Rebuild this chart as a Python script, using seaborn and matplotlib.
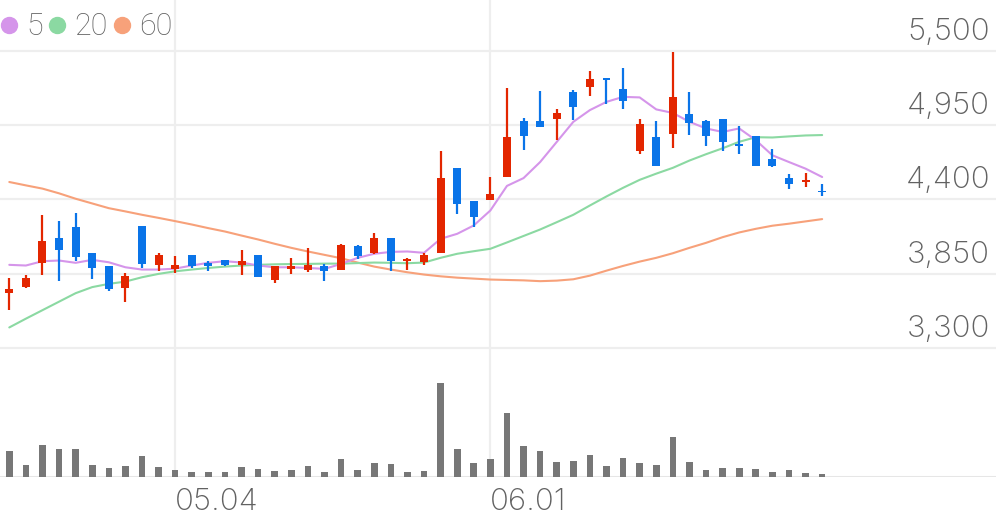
import numpy as np
import pandas as pd
import matplotlib
matplotlib.use("Agg")
import matplotlib.pyplot as plt
from matplotlib.lines import Line2D
import seaborn as sns

# ---------------- data ----------------
opens = [3704, 3748, 3932, 4112, 4199, 4001, 3904, 3741, 4202, 3917,
         3887, 3989, 3927, 3952, 3915, 3989, 3805, 3887, 3878, 3907,
         3880, 4058, 4001, 4112, 3942, 3937, 4004, 4636, 4390, 4398,
         4564, 4978, 4978, 4995, 5193, 5232, 5302, 5220, 4759, 4861,
         4883, 5034, 4982, 4995, 4807, 4871, 4700, 4556, 4532, 4462]
highs = [3818, 3837, 4283, 4239, 4301, 4001, 3904, 3852, 4202, 4001,
         3979, 3991, 3942, 3952, 4026, 3989, 3907, 3967, 4041, 3922,
         4073, 4063, 4150, 4115, 3969, 4001, 4759, 4636, 4390, 4569,
         5227, 5007, 5205, 5067, 5210, 5349, 5302, 5376, 4997, 4982,
         5490, 5193, 4985, 4995, 4943, 4871, 4774, 4591, 4598, 4512]
lows = [3580, 3744, 3843, 3798, 3947, 3813, 3724, 3640, 3892, 3872,
        3858, 3892, 3872, 3904, 3840, 3826, 3781, 3848, 3863, 3796,
        3878, 3956, 3999, 3872, 3880, 3917, 4001, 4289, 4199, 4398,
        4564, 4764, 4933, 4844, 4992, 5166, 5106, 5069, 4735, 4651,
        4779, 4876, 4794, 4757, 4735, 4648, 4638, 4480, 4494, 4422]
closes = [3733, 3818, 4090, 4028, 3971, 3895, 3739, 3833, 3922, 3991,
          3912, 3907, 3910, 3915, 3944, 3826, 3907, 3910, 3915, 3872,
          4063, 3984, 4112, 3942, 3956, 3986, 4558, 4368, 4269, 4440,
          4863, 4868, 4933, 5044, 5084, 5294, 5284, 5128, 4961, 4651,
          5156, 4965, 4873, 4824, 4796, 4648, 4648, 4514, 4543, 4452]
ma5 = [3915, 3910, 3942, 3947, 3930, 3952, 3934, 3897, 3880, 3880,
       3887, 3910, 3930, 3942, 3932, 3910, 3897, 3897, 3892, 3885,
       3922, 3967, 3997, 4011, 4014, 4004, 4108, 4145, 4207, 4318,
       4500, 4558, 4677, 4826, 4975, 5062, 5123, 5160, 5156, 5067,
       5041, 4975, 4926, 4900, 4926, 4839, 4727, 4677, 4628, 4566]
ma20 = [3451, 3516, 3579, 3642, 3705, 3750, 3774, 3791, 3823, 3848,
        3867, 3880, 3892, 3902, 3910, 3915, 3919, 3921, 3922, 3924,
        3924, 3928, 3932, 3930, 3927, 3932, 3967, 3997, 4016, 4034,
        4081, 4129, 4177, 4231, 4286, 4355, 4422, 4486, 4545, 4591,
        4634, 4688, 4735, 4779, 4827, 4861, 4859, 4867, 4874, 4877]
ma60 = [4529, 4504, 4480, 4445, 4405, 4370, 4335, 4311, 4286, 4263,
        4239, 4214, 4187, 4162, 4132, 4103, 4071, 4041, 4014, 3989,
        3964, 3932, 3902, 3880, 3860, 3843, 3830, 3820, 3813, 3806,
        3803, 3800, 3794, 3798, 3808, 3835, 3872, 3907, 3939, 3967,
        4001, 4041, 4078, 4120, 4155, 4182, 4205, 4220, 4237, 4254]
volumes = [257, 123, 317, 280, 277, 120, 90, 107, 207, 100,
           67, 53, 53, 47, 103, 77, 57, 70, 107, 50,
           177, 70, 137, 127, 50, 60, 940, 277, 140, 180,
           637, 310, 257, 150, 163, 217, 113, 190, 140, 123,
           400, 150, 70, 90, 87, 77, 50, 67, 40, 27]
price_ticks = [5500, 4950, 4400, 3850, 3300]
price_tick_labels = ["5,500", "4,950", "4,400", "3,850", "3,300"]
date_tick_pos = [10, 29]
date_tick_labels = ["05.04", "06.01"]
ma_names = ["5", "20", "60"]

# ---------------- style ----------------
sns.set_theme(style="white")
plt.rcParams["font.family"] = ["Roboto", "DejaVu Sans"]
AXIS_FONT = ["Inter", "Roboto", "DejaVu Sans"]

UP = "#e32600"
DOWN = "#0a74e8"
MA_COLORS = ["#d595ea", "#8bd9a2", "#f7a17a"]
TXT = "#626262"
GRID = "#eeeeee"
FS = 22
AFS = 22.5

idx = np.arange(len(closes))
df = pd.DataFrame({"i": idx, "open": opens, "high": highs, "low": lows,
                   "close": closes, "ma5": ma5, "ma20": ma20, "ma60": ma60,
                   "vol": volumes})

fig = plt.figure(figsize=(9.96, 5.19), dpi=100)
ax = fig.add_axes([0, 42 / 519, 1, 477 / 519])
axv = fig.add_axes([0, 42 / 519, 1, 117 / 519])
axv.patch.set_alpha(0)

xlim = (-0.56, 59.48)
for a in (ax, axv):
    a.set_xlim(*xlim)
    for s in a.spines.values():
        s.set_visible(False)

# price scale
ax.set_ylim(2342.5, 5878)
ax.set_yticks(price_ticks)
ax.set_yticklabels([])
ax.tick_params(axis="both", length=0)
ax.set_xticks(date_tick_pos)
ax.set_xticklabels(date_tick_labels, fontsize=AFS, color=TXT, ha="left",
                   family=AXIS_FONT, fontweight="light")
ax.tick_params(axis="x", pad=8)
ax.grid(True, color=GRID, linewidth=1.6)
ax.set_axisbelow(True)

for v, lab in zip(price_ticks, price_tick_labels):
    ax.annotate(lab, xy=(1, v), xycoords=("axes fraction", "data"),
                xytext=(-6, 19), textcoords="offset pixels",
                ha="right", va="center", fontsize=AFS, color=TXT,
                family=AXIS_FONT, fontweight="light")

# moving averages
for col, c in zip(["ma60", "ma20", "ma5"], MA_COLORS[::-1]):
    sns.lineplot(data=df, x="i", y=col, ax=ax, color=c, linewidth=1.5,
                 zorder=2, legend=False)
ax.set_xlabel("")
ax.set_ylabel("")

# candles
colors = [UP if c >= o else DOWN for o, c in zip(opens, closes)]
bottoms = [min(o, c) for o, c in zip(opens, closes)]
heights = [max(abs(c - o), 14) for o, c in zip(opens, closes)]
ax.vlines(idx, lows, highs, colors=colors, linewidth=1.6, zorder=3)
ax.bar(idx, heights, bottom=bottoms, width=0.48, color=colors,
       linewidth=0, zorder=4)

# volume
axv.set_ylim(0, 1170)
axv.bar(idx, volumes, width=0.4, color="#777777", linewidth=0, zorder=3)
axv.axhline(0, color="#e6e6e6", linewidth=2.2, zorder=2)
axv.set_xticks([])
axv.set_yticks([])

# legend
handles = [Line2D([0], [0], marker="o", linestyle="none", markersize=11.5,
                  markerfacecolor=c, markeredgecolor=c) for c in MA_COLORS]
leg = fig.legend(handles, ma_names, loc="upper left",
                 bbox_to_anchor=(0.001, 0.976), ncol=3, frameon=False,
                 fontsize=FS, handlelength=0.55, handletextpad=0.28,
                 columnspacing=0.2, borderpad=0.0, borderaxespad=0.0)
for t in leg.get_texts():
    t.set_color(TXT)
    t.set_fontweight("light")

fig.savefig("out.png", dpi=100)
